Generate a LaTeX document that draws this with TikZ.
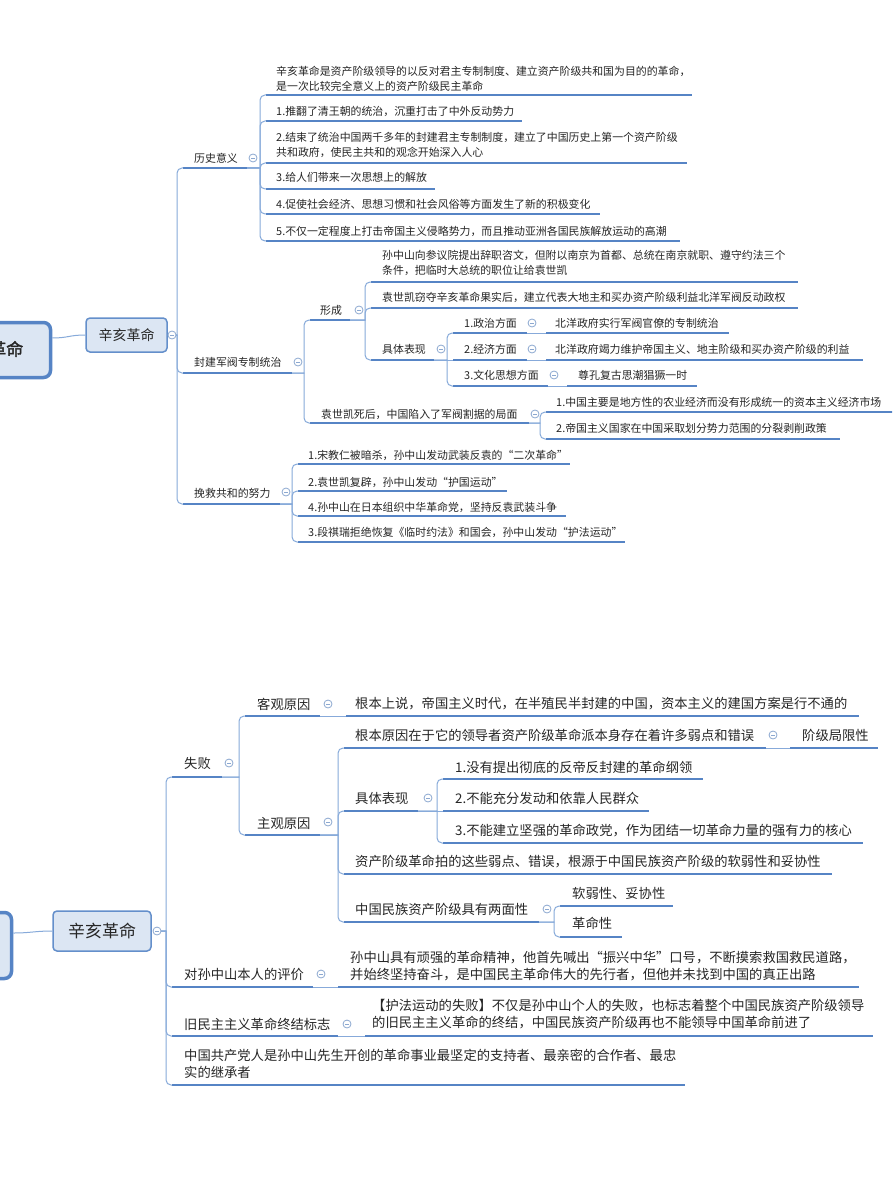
\documentclass[tikz,border=0pt]{standalone}
\usepackage{fontspec}
\newfontfamily\cjk{Noto Sans CJK SC}
\newfontfamily\cjkbf[FakeBold=2]{Noto Sans CJK SC}
\usetikzlibrary{calc}
\definecolor{ulc}{RGB}{86,132,197}
\definecolor{connc}{RGB}{135,170,218}
\definecolor{boxfill}{RGB}{220,230,243}
\definecolor{boxdraw}{RGB}{100,143,203}
\definecolor{txt}{RGB}{38,38,38}
\definecolor{foldcol}{RGB}{140,168,208}
\tikzset{
  ta/.style={font=\cjk\fontsize{10.9}{15}\selectfont, text=txt, inner sep=0pt, align=left},
  tb/.style={font=\cjk\fontsize{13.3}{17}\selectfont, text=txt, inner sep=0pt, align=left},
  taul/.style={draw=ulc, line width=2.2pt},
  tbul/.style={draw=ulc, line width=2.8pt},
  conn/.style={draw=connc, line width=1pt},
  foldc/.style={circle, draw=foldcol, line width=0.8pt, fill=white, minimum size=8pt, inner sep=0pt,
    path picture={\draw[foldcol, line width=0.8pt] ([xshift=-2pt]path picture bounding box.center) -- ([xshift=2pt]path picture bounding box.center);}},
  subbox/.style={draw=boxdraw, fill=boxfill, line width=1.5pt, rounded corners=4pt, inner sep=0pt, text=txt},
  rootbox/.style={draw=ulc, fill=boxfill, line width=3.5pt, rounded corners=7pt, inner sep=0pt},
}
% name, style, text x, text y, text, underline x1, underline x2, underline y
\newcommand\topic[8]{%
  \node[#2, anchor=west] (#1) at (#3,#4) {#5};
  \coordinate (#1-s) at (#6,#8);
  \coordinate (#1-e) at (#7,#8);
  \draw[#2ul] (#1-s) -- (#1-e);
}
\newcommand\fold[3]{\node[foldc] (#1-f) at (#2,#3) {};}
\newcommand\link[2]{\draw[conn] (#1) -- ($(#1 -| #2)+(-6,0)$) {[rounded corners=5pt] |- (#2)};}
\newcommand\linkh[2]{\draw[conn] (#1) -- (#2);}
\begin{document}
\begin{tikzpicture}[x=1pt,y=-1pt]
\useasboundingbox (0,0) rectangle (892,1190);
\fill[white] (0,0) rectangle (892,1190);
\clip (0,0) rectangle (892,1190);

% ================= TOP =================
\node[rootbox, minimum width=160pt, minimum height=55pt] (r1) at (-29.5,350) {};
\node[font=\cjkbf\fontsize{17}{17}\selectfont, text=txt, anchor=east, inner sep=0pt] (r1t) at (23.5,349) {辛亥革命};
\node[subbox, minimum width=81pt, minimum height=34pt, font=\cjk\fontsize{14}{14}\selectfont] (b1) at (126.5,335) {辛亥革命};
\draw[conn] ([yshift=12pt]r1.east) .. controls +(16,0) and +(-16,0) .. (b1.west);
\coordinate (b1-e) at (176,335);

\topic{n1}{ta}{194}{158}{历史意义}{183}{247}{168}
\topic{n2}{ta}{194}{362}{封建军阀专制统治}{183}{292}{373}
\topic{n3}{ta}{194}{493}{挽救共和的努力}{183}{280}{504}

\topic{n1a}{ta}{276}{78.5}{辛亥革命是资产阶级领导的以反对君主专制制度、建立资产阶级共和国为目的的革命，\\是一次比较完全意义上的资产阶级民主革命}{266}{692}{95}
\topic{n1b}{ta}{276}{111}{1.推翻了清王朝的统治，沉重打击了中外反动势力}{266}{522}{121}
\topic{n1c}{ta}{276}{144.5}{2.结束了统治中国两千多年的封建君主专制制度，建立了中国历史上第一个资产阶级\\共和政府，使民主共和的观念开始深入人心}{266}{687}{163}
\topic{n1d}{ta}{276}{177}{3.给人们带来一次思想上的解放}{266}{435}{189}
\topic{n1e}{ta}{276}{204}{4.促使社会经济、思想习惯和社会风俗等方面发生了新的积极变化}{266}{600}{214}
\topic{n1f}{ta}{276}{231}{5.不仅一定程度上打击帝国主义侵略势力，而且推动亚洲各国民族解放运动的高潮}{266}{680}{241}

\topic{n2a}{ta}{320}{310}{形成}{310}{350}{320}
\topic{n2b}{ta}{321}{414}{袁世凯死后，中国陷入了军阀割据的局面}{310}{529}{423}

\topic{n2a1}{ta}{382}{263}{孙中山向参议院提出辞职咨文，但附以南京为首都、总统在南京就职、遵守约法三个\\条件，把临时大总统的职位让给袁世凯}{371}{798}{282}
\topic{n2a2}{ta}{382}{297}{袁世凯窃夺辛亥革命果实后，建立代表大地主和买办资产阶级利益北洋军阀反动政权}{371}{798}{308}
\topic{n2a3}{ta}{382}{349}{具体表现}{371}{434}{360}

\topic{p1}{ta}{464}{323}{1.政治方面}{453}{527}{333}
\topic{p2}{ta}{464}{349}{2.经济方面}{453}{527}{360}
\topic{p3}{ta}{464}{375}{3.文化思想方面}{453}{548}{386}
\topic{p1c}{ta}{555}{323}{北洋政府实行军阀官僚的专制统治}{546}{729}{333}
\topic{p2c}{ta}{555}{349}{北洋政府竭力维护帝国主义、地主阶级和买办资产阶级的利益}{546}{863}{360}
\topic{p3c}{ta}{578}{375}{尊孔复古思潮猖獗一时}{567}{697}{386}

\topic{q1}{ta}{556}{402}{1.中国主要是地方性的农业经济而没有形成统一的资本主义经济市场}{546}{893}{412}
\topic{q2}{ta}{556}{428}{2.帝国主义国家在中国采取划分势力范围的分裂剥削政策}{546}{840}{439}

\topic{r1a}{ta}{308}{455}{1.宋教仁被暗杀，孙中山发动武装反袁的“二次革命”}{298}{570}{464}
\topic{r2a}{ta}{308}{482}{2.袁世凯复辟，孙中山发动“护国运动”}{298}{507}{491}
\topic{r3a}{ta}{308}{507}{4.孙中山在日本组织中华革命党，坚持反袁武装斗争}{298}{566}{516}
\topic{r4a}{ta}{308}{532}{3.段祺瑞拒绝恢复《临时约法》和国会，孙中山发动“护法运动”}{298}{625}{542}

\link{b1-e}{n1-s}
\link{b1-e}{n2-s}
\link{b1-e}{n3-s}
\foreach \c in {n1a,n1b,n1c,n1d,n1e,n1f} {\link{n1-e}{\c-s}}
\link{n2-e}{n2a-s}
\link{n2-e}{n2b-s}
\link{n2a-e}{n2a1-s}
\link{n2a-e}{n2a2-s}
\link{n2a-e}{n2a3-s}
\link{n2a3-e}{p1-s}
\linkh{n2a3-e}{p2-s}
\link{n2a3-e}{p3-s}
\linkh{p1-e}{p1c-s}
\linkh{p2-e}{p2c-s}
\linkh{p3-e}{p3c-s}
\link{n2b-e}{q1-s}
\link{n2b-e}{q2-s}
\foreach \c in {r1a,r2a,r3a,r4a} {\link{n3-e}{\c-s}}

\fold{b1}{172}{335}
\fold{n1}{253}{158}
\fold{n2}{298}{362}
\fold{n3}{286}{492}
\fold{n2a}{359}{310}
\fold{n2a3}{441}{349}
\fold{p1}{532}{323}
\fold{p2}{532}{349}
\fold{p3}{554}{375}
\fold{n2b}{535}{414}

% ================= BOTTOM =================
\node[rootbox, minimum width=160pt, minimum height=66pt] (r2) at (-68.5,945.5) {};
\node[subbox, minimum width=98pt, minimum height=40pt, font=\cjk\fontsize{17}{17}\selectfont] (b2) at (102,931) {辛亥革命};
\draw[conn] ([yshift=12.5pt]r2.east) .. controls +(18,0) and +(-18,0) .. (b2.west);
\coordinate (b2-e) at (161,931);

\topic{m1}{tb}{184}{763}{失败}{172}{222}{777}
\topic{m2}{tb}{184}{974}{对孙中山本人的评价}{172}{313}{987}
\topic{m3}{tb}{184}{1024}{旧民主主义革命终结标志}{172}{338}{1036}
\topic{m4}{tb}{184}{1064}{中国共产党人是孙中山先生开创的革命事业最坚定的支持者、最亲密的合作者、最忠\\实的继承者}{172}{685}{1085}

\topic{k1}{tb}{257}{704}{客观原因}{245}{320}{716}
\topic{k2}{tb}{257}{823}{主观原因}{245}{320}{835}
\topic{k1c}{tb}{355}{704}{根本上说，帝国主义时代，在半殖民半封建的中国，资本主义的建国方案是行不通的}{346}{859}{716}

\topic{s1}{tb}{355}{735}{根本原因在于它的领导者资产阶级革命派本身存在着许多弱点和错误}{344}{766}{748}
\topic{s1c}{tb}{802}{735}{阶级局限性}{790}{878}{748}
\topic{s2}{tb}{355}{798}{具体表现}{344}{418}{811}
\topic{t1}{tb}{455}{767}{1.没有提出彻底的反帝反封建的革命纲领}{443}{703}{779}
\topic{t2}{tb}{455}{798}{2.不能充分发动和依靠人民群众}{443}{649}{811}
\topic{t3}{tb}{455}{831}{3.不能建立坚强的革命政党，作为团结一切革命力量的强有力的核心}{443}{863}{843}
\topic{s3}{tb}{355}{862}{资产阶级革命拍的这些弱点、错误，根源于中国民族资产阶级的软弱性和妥协性}{344}{832}{874}
\topic{s4}{tb}{355}{909}{中国民族资产阶级具有两面性}{344}{539}{922}
\topic{u1}{tb}{572}{893}{软弱性、妥协性}{560}{673}{906}
\topic{u2}{tb}{572}{923}{革命性}{560}{622}{937}

\topic{m2c}{tb}{350}{966}{孙中山具有顽强的革命精神，他首先喊出“振兴中华”口号，不断摸索救国救民道路，\\并始终坚持奋斗，是中国民主革命伟大的先行者，但他并未找到中国的真正出路}{338}{859}{987}
\topic{m3c}{tb}{372}{1014.5}{【护法运动的失败】不仅是孙中山个人的失败，也标志着整个中国民族资产阶级领导\\的旧民主主义革命的终结，中国民族资产阶级再也不能领导中国革命前进了}{365}{873}{1036}

\foreach \c in {m1,m2,m3,m4} {\link{b2-e}{\c-s}}
\link{m1-e}{k1-s}
\link{m1-e}{k2-s}
\linkh{k1-e}{k1c-s}
\foreach \c in {s1,s2,s3,s4} {\link{k2-e}{\c-s}}
\linkh{s1-e}{s1c-s}
\link{s2-e}{t1-s}
\linkh{s2-e}{t2-s}
\link{s2-e}{t3-s}
\link{s4-e}{u1-s}
\link{s4-e}{u2-s}
\linkh{m2-e}{m2c-s}
\linkh{m3-e}{m3c-s}

\fold{b2}{157}{931}
\fold{m1}{229}{763}
\fold{m2}{321}{974}
\fold{m3}{347}{1024}
\fold{k1}{328}{704}
\fold{k2}{328}{822}
\fold{s1}{773}{735}
\fold{s2}{428}{798}
\fold{s4}{547}{909}
\end{tikzpicture}
\end{document}
